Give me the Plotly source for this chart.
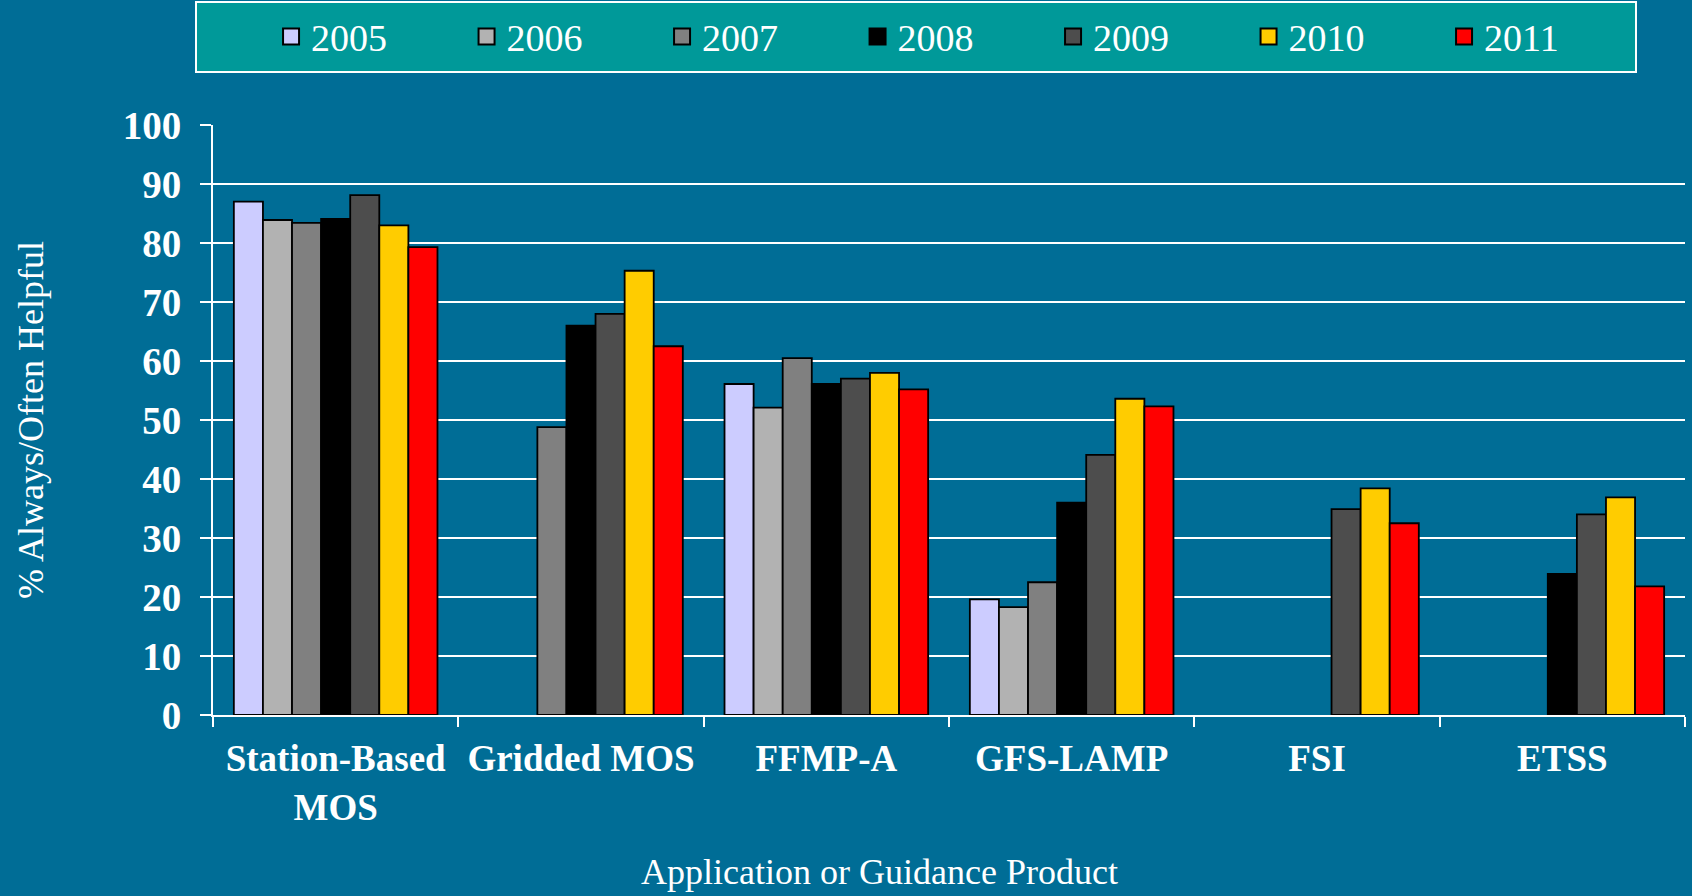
import plotly.graph_objects as go

categories = ["Station-Based<br>MOS", "Gridded MOS", "FFMP-A", "GFS-LAMP", "FSI", "ETSS"]
years = ["2005", "2006", "2007", "2008", "2009", "2010", "2011"]

v2005 = [87.0, None, 56.1, 19.6, None, None]
v2006 = [83.9, None, 52.1, 18.3, None, None]
v2007 = [83.4, 48.8, 60.5, 22.5, None, None]
v2008 = [84.1, 66.0, 56.1, 36.0, None, 23.9]
v2009 = [88.1, 68.0, 57.0, 44.1, 34.9, 34.0]
v2010 = [83.0, 75.3, 58.0, 53.6, 38.4, 36.9]
v2011 = [79.3, 62.5, 55.2, 52.3, 32.5, 21.8]

series = [v2005, v2006, v2007, v2008, v2009, v2010, v2011]
colors = ["#CCCCFF", "#B2B2B2", "#808080", "#000000", "#4D4D4D", "#FFCC00", "#FF0000"]

y_ticks = [0, 10, 20, 30, 40, 50, 60, 70, 80, 90, 100]

BG = "#006D96"
SERIF = "Liberation Serif"

fig = go.Figure()
for name, vals, col in zip(years, series, colors):
    fig.add_trace(go.Bar(
        x=categories, y=vals, name=name, showlegend=False,
        marker=dict(color=col, line=dict(color="black", width=1.8)),
    ))
# legend entries (square swatches like the original)
for name, col in zip(years, colors):
    fig.add_trace(go.Scatter(
        x=[None], y=[None], name=name, mode="markers",
        marker=dict(symbol="square", size=16, color=col, line=dict(color="black", width=2)),
    ))

fig.update_layout(
    width=1692, height=896,
    paper_bgcolor=BG, plot_bgcolor=BG,
    barmode="group", bargap=0.17, bargroupgap=0,
    margin=dict(l=213, r=7, t=125, b=181, autoexpand=False),
    font=dict(family=SERIF, color="white"),
    showlegend=True,
    legend=dict(
        orientation="h", x=0.1602, xanchor="left", y=0.994, yanchor="top",
        xref="container", yref="container",
        bgcolor="rgba(0,0,0,0)", borderwidth=0,
        font=dict(family=SERIF, size=38, color="white"),
        entrywidth=150.5, entrywidthmode="pixels",
        itemsizing="trace", traceorder="normal",
    ),
    shapes=[dict(
        type="rect", xref="paper", yref="paper",
        x0=(196 - 213) / 1472, x1=(1636 - 213) / 1472,
        y0=(715 - 72) / 590, y1=(715 - 2) / 590,
        fillcolor="#009999", line=dict(color="white", width=2), layer="below",
    )],
    annotations=[dict(
        text="Application or Guidance Product", xref="paper", yref="paper",
        x=(879 - 213) / 1472, y=(715 - 872) / 590, xanchor="center", yanchor="middle",
        showarrow=False, font=dict(family=SERIF, size=36, color="white"),
    )],
)

fig.update_yaxes(
    range=[0, 100], tickvals=y_ticks, ticktext=[str(t) for t in y_ticks],
    showgrid=True, gridcolor="white", gridwidth=2,
    showline=True, linecolor="white", linewidth=2,
    ticks="outside", ticklen=11, tickcolor="white", tickwidth=2,
    ticklabelstandoff=11,
    tickfont=dict(family=SERIF, size=39, color="white", weight="bold"),
    zeroline=False,
    title=dict(text="% Always/Often Helpful", font=dict(family=SERIF, size=36, color="white"), standoff=68),
)
fig.update_xaxes(
    showline=True, linecolor="white", linewidth=2,
    ticks="outside", ticklen=10, tickcolor="white", tickwidth=2, tickson="boundaries",
    ticklabelstandoff=10,
    tickfont=dict(family=SERIF, size=37, color="white", weight="bold"),
    showgrid=False,
)

fig.write_html("out.html", config={"displayModeBar": False},
               post_script="document.body.style.margin='0px';")
